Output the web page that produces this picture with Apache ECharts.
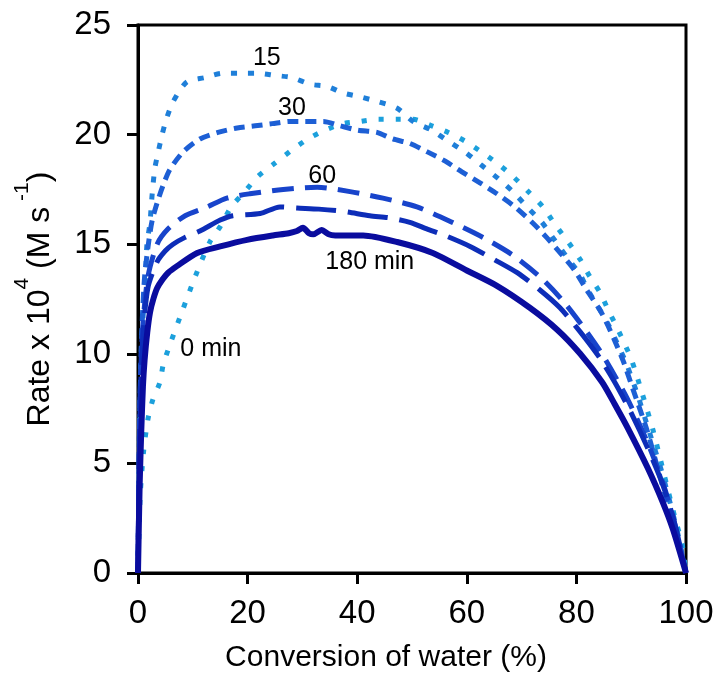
<!DOCTYPE html>
<html>
<head>
<meta charset="utf-8">
<script src="https://cdn.jsdelivr.net/npm/echarts@6/dist/echarts.min.js"></script>
<style>
html,body{margin:0;padding:0;background:#fff;}
#chart{width:724px;height:696px;}
</style>
</head>
<body>
<div id="chart"></div>
<script>
// ---- data (x = conversion of water %, y = rate x 10^4) ----
const xTicks = [0, 20, 40, 60, 80, 100];
const yTicks = [0, 5, 10, 15, 20, 25];

const seriesNames = ['0 min', '15 min', '30 min', '60 min', '120 min', '180 min'];

const min0 = [[0,0],[0.4,3.5],[1,5.5],[1.8,7.0],[2.7,7.9],[4.0,8.7],[4.6,9.5],[5.8,10.4],[8.0,11.9],[10.4,13.5],[13.1,15.1],[15.0,15.8],[17.0,16.7],[19.5,17.4],[21.9,18.1],[25,18.7],[28.1,19.3],[31,19.8],[34.1,20.2],[37.4,20.5],[40.5,20.6],[43.8,20.7],[47.1,20.7],[50.2,20.7],[53.6,20.4],[56.6,20.1],[59.7,19.7],[62.7,19.2],[65.5,18.7],[68.4,18.1],[71.2,17.4],[73.9,16.7],[76.1,15.9],[78.5,15.1],[80.7,14.3],[82.5,13.5],[84.3,12.8],[85.8,12.0],[87.4,11.2],[88.9,10.4],[90.1,9.7],[92,8.2],[94,6.5],[96,4.5],[98,2.5],[99.3,1.3],[100,0]];

const min15 = [[0,0],[0.3,6],[0.6,10.2],[1.0,12.0],[1.3,12.9],[1.6,14.9],[2.2,16.0],[2.4,16.7],[2.7,17.6],[3.1,18.5],[3.6,19.1],[4.4,20.0],[5.3,20.8],[6.4,21.5],[8.9,22.4],[12.2,22.6],[15.5,22.8],[18.6,22.8],[21.7,22.8],[25,22.7],[28.1,22.6],[31.4,22.3],[34.5,22.2],[37.4,21.9],[40.9,21.7],[43.8,21.5],[47.3,21.2],[50.2,20.6],[53.6,20.2],[56.6,19.7],[59.7,19.2],[62.7,18.6],[65.7,18.0],[68.4,17.4],[71,16.7],[73.7,16.0],[75.7,15.3],[78.3,14.4],[80.7,13.6],[82.1,12.9],[84.3,12.0],[86.1,11.2],[87.6,10.4],[89.2,9.5],[91.2,8.1],[93.1,6.6],[95.6,4.6],[97.1,3.2],[98.5,1.8],[100,0]];

const min30 = [[0,0],[0.3,7],[0.7,11],[1.2,13.5],[2.0,15.2],[2.6,16.1],[3.5,16.9],[4.6,17.7],[5.8,18.4],[8.2,19.2],[11.3,19.8],[14.6,20.1],[18.1,20.3],[21.4,20.4],[24.5,20.5],[27.7,20.6],[30.5,20.6],[33.8,20.6],[36.9,20.4],[40.1,20.2],[43.6,20.1],[46.5,19.8],[49.6,19.6],[52.9,19.2],[56,18.8],[59.1,18.3],[62.4,17.8],[65.5,17.3],[68.8,16.7],[71.9,16.0],[74.6,15.3],[77.4,14.5],[79.7,13.8],[81.9,12.9],[84.3,12.0],[86.1,11.1],[88.5,9.7],[90.3,8.4],[92.9,6.5],[94.7,4.9],[96.7,3.1],[98.5,1.5],[100,0]];

const min60 = [[0,0],[0.3,7],[0.8,11],[1.8,13.5],[3.5,15.0],[5.5,15.7],[8.6,16.3],[12.6,16.7],[16.2,17.1],[20.4,17.3],[26.5,17.5],[32.7,17.6],[38.7,17.4],[44.7,17.1],[50.9,16.7],[57.3,16.0],[63,15.3],[68.4,14.5],[73.4,13.5],[77.6,12.4],[81.9,11.0],[84.9,9.9],[89.2,8.0],[92.9,6.0],[95.8,4.1],[98,2.2],[100,0]];

const min120 = [[0,0],[0.3,6.5],[0.8,10.5],[1.8,13],[3.5,14.2],[5,14.7],[6.4,15.0],[8.5,15.3],[11.3,15.6],[15.0,16.1],[17.3,16.3],[22.3,16.4],[25.9,16.7],[29,16.65],[33,16.6],[37.4,16.5],[42.3,16.3],[46,16.2],[49.6,16.0],[52.7,15.7],[56,15.4],[60.6,14.9],[65,14.3],[69.2,13.7],[73.4,12.9],[77,12.1],[80.7,11.0],[84.3,9.8],[87,8.7],[89.8,7.4],[93,5.7],[95.8,4.0],[98,2.2],[100,0]];

const min180 = [[0,0],[0.3,4],[0.6,6.5],[0.9,8.5],[1.2,9.7],[1.7,11.0],[2.2,11.9],[2.8,12.5],[3.5,13.0],[4.5,13.4],[5.5,13.7],[7.1,14.0],[10.8,14.6],[15,14.9],[19.9,15.2],[24.6,15.4],[27.5,15.5],[29,15.6],[30.1,15.75],[31.2,15.5],[32,15.45],[33.5,15.65],[34.8,15.45],[36,15.4],[41.1,15.4],[47.3,15.1],[53.8,14.6],[60,13.8],[65.5,13.1],[71.5,12.1],[76.5,11.1],[80.7,10.0],[84.7,8.7],[87,7.7],[89.4,6.6],[93,4.8],[95.8,3.2],[97.6,2.0],[100,0]];

const annoText = ['15', '30', '60', '180 min', '0 min'];
const annoX = [23.5, 28.1, 33.6, 42.3, 13.3];
const annoY = [23.5, 21.2, 18.1, 14.2, 10.2];

// ---- styles ----
const colors = ['#1ca0dc', '#1f7fd9', '#1d5fd5', '#1844cb', '#0d2db8', '#0a0c9e'];
const dashes = [[5, 12], [6, 11], [11, 7], [22, 11], [40, 12], 'solid'];
const widths = [5, 5, 5, 5, 5, 6];
const allData = [min0, min15, min30, min60, min120, min180];

const chart = echarts.init(document.getElementById('chart'), null, {renderer: 'canvas'});
const FONT = 'Liberation Sans, Arial, sans-serif';

const lineSeries = allData.map((d, i) => ({
  name: seriesNames[i],
  type: 'line',
  data: d,
  showSymbol: false,
  symbol: 'none',
  smooth: 0.25,
  lineStyle: { color: colors[i], width: widths[i], type: dashes[i], cap: 'butt', join: 'round' },
  z: 2 + i,
  animation: false
}));

const annoSeries = {
  type: 'scatter',
  data: annoText.map((t, i) => [annoX[i], annoY[i], t]),
  symbolSize: 1,
  itemStyle: { color: 'rgba(0,0,0,0)', opacity: 1 },
  label: {
    show: true,
    position: 'inside',
    formatter: p => p.data[2],
    color: '#000',
    opacity: 1,
    fontSize: 25,
    fontFamily: FONT
  },
  z: 20,
  animation: false
};

chart.setOption({
  backgroundColor: '#fff',
  animation: false,
  grid: { left: 138, right: 38, top: 25, bottom: 123, show: true, borderColor: '#000', borderWidth: 3, backgroundColor: 'transparent' },
  xAxis: {
    type: 'value', min: xTicks[0], max: xTicks[xTicks.length - 1], interval: 20,
    name: 'Conversion of water (%)', nameLocation: 'middle', nameGap: 70,
    nameTextStyle: { fontSize: 30, color: '#000', fontFamily: FONT, padding: [0, 52, 0, 0] },
    axisLine: { lineStyle: { color: '#000', width: 3 } },
    axisTick: { show: true, length: 11, lineStyle: { color: '#000', width: 3 } },
    axisLabel: { fontSize: 33, color: '#000', margin: 24, fontFamily: FONT },
    splitLine: { show: false }
  },
  yAxis: {
    type: 'value', min: yTicks[0], max: yTicks[yTicks.length - 1], interval: 5,
    name: '{a|Rate x 10}{s|4}{a| (M s}{s| -1}{a|)}', nameLocation: 'middle', nameGap: 82,
    nameTextStyle: {
      color: '#000', fontFamily: FONT, fontSize: 32,
      rich: {
        a: { fontSize: 32, color: '#000', fontFamily: FONT, lineHeight: 44, verticalAlign: 'bottom' },
        s: { fontSize: 21, color: '#000', fontFamily: FONT, lineHeight: 44, verticalAlign: 'top' }
      }
    },
    axisLine: { lineStyle: { color: '#000', width: 3 } },
    axisTick: { show: true, length: 11, lineStyle: { color: '#000', width: 3 } },
    axisLabel: { fontSize: 33, color: '#000', margin: 27, fontFamily: FONT },
    splitLine: { show: false }
  },
  series: lineSeries.concat([annoSeries])
});
</script>
</body>
</html>
